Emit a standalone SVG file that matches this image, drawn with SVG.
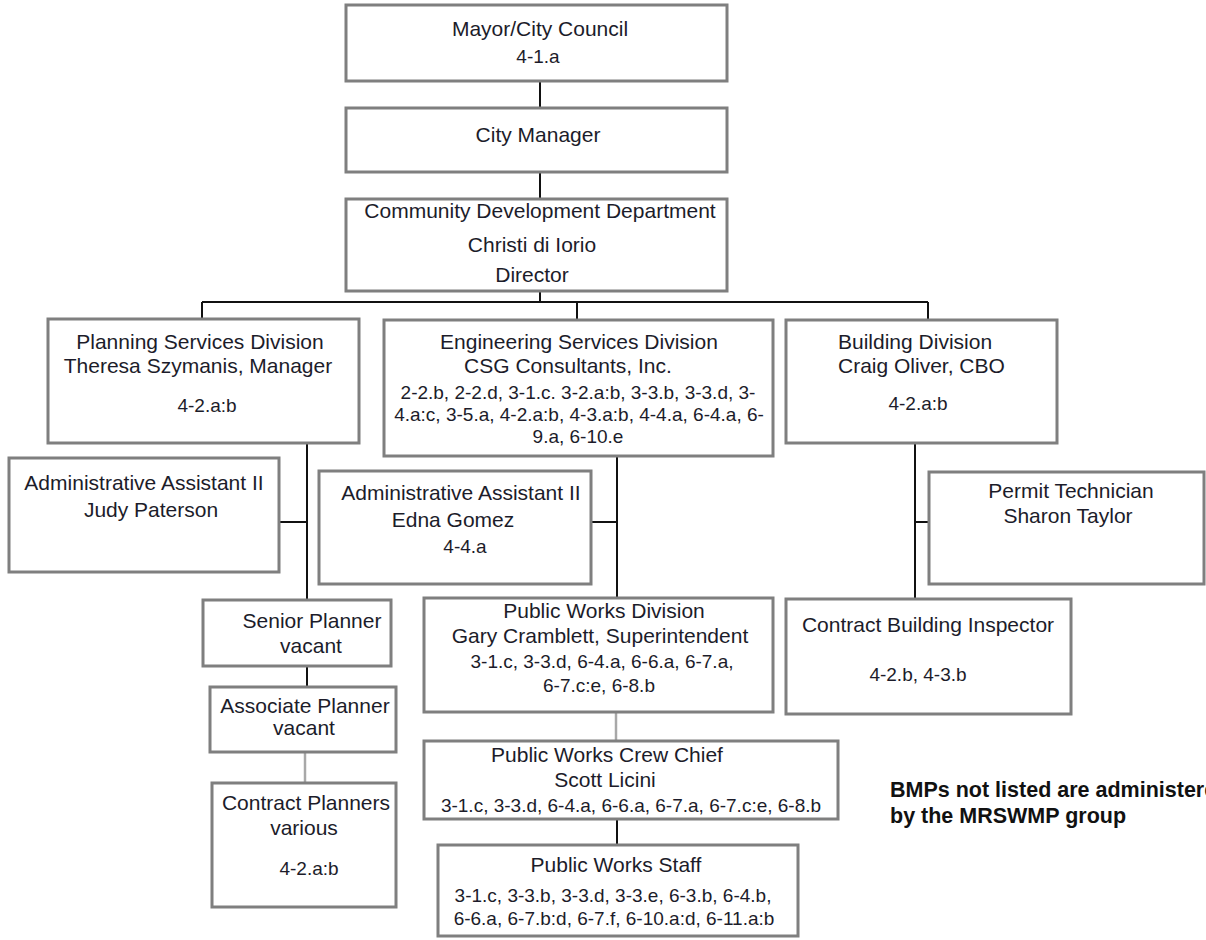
<svg xmlns="http://www.w3.org/2000/svg" width="1206" height="940" viewBox="0 0 1206 940">
<style>
.box{fill:#fff;stroke:#7f7f7f;stroke-width:3}
text{font-family:"Liberation Sans",Arial,sans-serif;fill:#1c1c2a;text-anchor:middle}
.t{font-size:21px}
.c{font-size:19px}
.n{font-size:21.5px;font-weight:bold;text-anchor:start;fill:#111}
.ln{stroke:#111;stroke-width:2;fill:none}
.lg{stroke:#a8a8a8;stroke-width:2.5;fill:none}
</style>
<rect width="1206" height="940" fill="#fff"/>
<g id="connectors">
<path class="ln" d="M540 81V108M540 172V199M540 292V302M202 302H928M202 302V319M577 302V320M928 302V320"/>
<path class="ln" d="M307 443V600M280 522H307"/>
<path class="ln" d="M617 456V598M591 522H617"/>
<path class="ln" d="M915 443V599M915 522H929"/>
<path class="ln" d="M307 666V687"/>
<path class="lg" d="M305 752V783"/>
<path class="lg" d="M616 712V741"/>
<path class="ln" d="M617 819V845"/>
</g>
<g id="mayor"><rect class="box" x="346" y="5" width="381" height="76"/>
<text class="t" x="540" y="36">Mayor/City Council</text><text class="c" x="538" y="63">4-1.a</text></g>
<g id="city-manager"><rect class="box" x="346" y="108" width="381" height="64"/>
<text class="t" x="538" y="142">City Manager</text></g>
<g id="cdd"><rect class="box" x="346" y="199" width="381" height="92"/>
<text class="t" x="540" y="218">Community Development Department</text>
<text class="t" x="532" y="252">Christi di Iorio</text>
<text class="t" x="532" y="282">Director</text></g>
<g id="planning"><rect class="box" x="48" y="319" width="311" height="124"/>
<text class="t" x="200" y="349">Planning Services Division</text>
<text class="t" x="198" y="373">Theresa Szymanis, Manager</text>
<text class="c" x="207" y="412">4-2.a:b</text></g>
<g id="engineering"><rect class="box" x="384" y="320" width="389" height="136"/>
<text class="t" x="579" y="349">Engineering Services Division</text>
<text class="t" x="568" y="373">CSG Consultants, Inc.</text>
<text class="c" x="578" y="399">2-2.b, 2-2.d, 3-1.c. 3-2.a:b, 3-3.b, 3-3.d, 3-</text>
<text class="c" x="579" y="421">4.a:c, 3-5.a, 4-2.a:b, 4-3.a:b, 4-4.a, 6-4.a, 6-</text>
<text class="c" x="578" y="443">9.a, 6-10.e</text></g>
<g id="building"><rect class="box" x="786" y="320" width="271" height="123"/>
<text class="t" x="838" y="349" style="text-anchor:start">Building Division</text>
<text class="t" x="838" y="373" style="text-anchor:start">Craig Oliver, CBO</text>
<text class="c" x="918" y="410">4-2.a:b</text></g>
<g id="admin-judy"><rect class="box" x="9" y="458" width="270" height="114"/>
<text class="t" x="144" y="490">Administrative Assistant II</text>
<text class="t" x="151" y="517">Judy Paterson</text></g>
<g id="admin-edna"><rect class="box" x="319" y="471" width="272" height="113"/>
<text class="t" x="461" y="500">Administrative Assistant II</text>
<text class="t" x="453" y="527">Edna Gomez</text>
<text class="c" x="465" y="553">4-4.a</text></g>
<g id="permit"><rect class="box" x="929" y="472" width="275" height="112"/>
<text class="t" x="1071" y="498">Permit Technician</text>
<text class="t" x="1068" y="523">Sharon Taylor</text></g>
<g id="senior-planner"><rect class="box" x="203" y="600" width="188" height="66"/>
<text class="t" x="312" y="628">Senior Planner</text>
<text class="t" x="311" y="653">vacant</text></g>
<g id="public-works-division"><rect class="box" x="424" y="598" width="349" height="114"/>
<text class="t" x="604" y="618">Public Works Division</text>
<text class="t" x="600" y="643">Gary Cramblett, Superintendent</text>
<text class="c" x="602" y="668">3-1.c, 3-3.d, 6-4.a, 6-6.a, 6-7.a,</text>
<text class="c" x="599" y="692">6-7.c:e, 6-8.b</text></g>
<g id="contract-building-inspector"><rect class="box" x="786" y="599" width="285" height="115"/>
<text class="t" x="928" y="632">Contract Building Inspector</text>
<text class="c" x="918" y="681">4-2.b, 4-3.b</text></g>
<g id="associate-planner"><rect class="box" x="210" y="687" width="186" height="65"/>
<text class="t" x="305" y="713">Associate Planner</text>
<text class="t" x="304" y="735">vacant</text></g>
<g id="crew-chief"><rect class="box" x="424" y="741" width="414" height="78"/>
<text class="t" x="607" y="762">Public Works Crew Chief</text>
<text class="t" x="605" y="787">Scott Licini</text>
<text class="c" x="631" y="812">3-1.c, 3-3.d, 6-4.a, 6-6.a, 6-7.a, 6-7.c:e, 6-8.b</text></g>
<g id="contract-planners"><rect class="box" x="212" y="783" width="184" height="124"/>
<text class="t" x="306" y="810">Contract Planners</text>
<text class="t" x="304" y="835">various</text>
<text class="c" x="309" y="875">4-2.a:b</text></g>
<g id="public-works-staff"><rect class="box" x="438" y="845" width="360" height="91"/>
<text class="t" x="616" y="872">Public Works Staff</text>
<text class="c" x="613" y="902">3-1.c, 3-3.b, 3-3.d, 3-3.e, 6-3.b, 6-4.b,</text>
<text class="c" x="614" y="925">6-6.a, 6-7.b:d, 6-7.f, 6-10.a:d, 6-11.a:b</text></g>
<g id="note">
<text class="n" x="890" y="797">BMPs not listed are administered</text>
<text class="n" x="890" y="823">by the MRSWMP group</text></g>
</svg>
